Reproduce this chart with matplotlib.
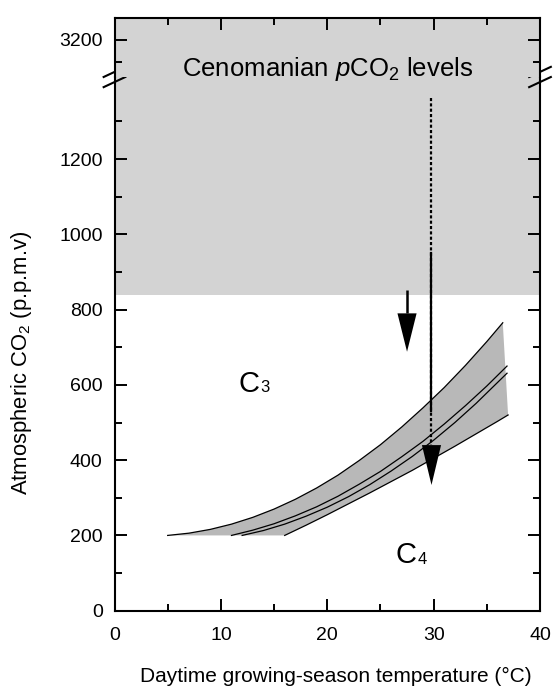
import matplotlib
matplotlib.use("Agg")
import matplotlib.pyplot as plt
from matplotlib.lines import Line2D
from matplotlib.ticker import FixedLocator, NullFormatter

plt.rcParams["font.family"] = ["Liberation Sans", "DejaVu Sans"]
plt.rcParams["mathtext.fontset"] = "custom"
plt.rcParams["mathtext.rm"] = "Liberation Sans"
plt.rcParams["mathtext.it"] = "Liberation Sans:italic"

# C3/C4 crossover band: temperature (°C) vs CO2 (p.p.m.v)
upper_t = [5, 7, 9, 11, 13, 15, 17, 19, 21, 23, 25, 27, 29, 31, 33, 35, 36.5]
upper_co2 = [200, 206, 216, 230, 248, 270, 296, 326, 360, 399, 441, 488,
             539, 593, 652, 715, 765]
lower_t = [16, 18, 20, 22, 24, 26, 28, 30, 32, 34, 36, 37]
lower_co2 = [200, 227, 255, 284, 313, 343, 373, 405, 437, 470, 503, 520]
mid1_t = [11, 13, 15, 17, 19, 21, 23, 25, 27, 29, 31, 33, 35, 36.9]
mid1_co2 = [200, 214, 231, 252, 276, 304, 336, 370, 409, 450, 496, 545,
            597, 650]
mid2_t = [12, 14, 16, 18, 20, 22, 24, 26, 28, 30, 32, 34, 36.9]
mid2_co2 = [200, 213, 230, 251, 275, 303, 335, 371, 410, 453, 500, 551, 631]

# Cenomanian pCO2 range (lower bound; extends past the axis break)
cenomanian_min = 840

# Arrows
arrow_t = 29.8
arrow_dotted = [1361, 440]
arrow_solid = [950, 530]
arrow_head = [440, 334]
small_arrow_t = 27.5
small_arrow_shaft = [852, 790]
small_arrow_head = [790, 688]

x_major = [0, 10, 20, 30, 40]
x_minor = [5, 15, 25, 35]
y_major = [0, 200, 400, 600, 800, 1000, 1200]
y_minor = [100, 300, 500, 700, 900, 1100, 1300]
y_top_major = [3200]
y_top_minor = [3100, 3300]

W_PX, H_PX = 556, 686
fig = plt.figure(figsize=(W_PX / 100, H_PX / 100), dpi=100)

left, right = 114.5, 540.0
top, brk, bottom = 18.0, 77.0, 610.7
L = left / W_PX
Wd = (right - left) / W_PX
ax = fig.add_axes([L, 1 - bottom / H_PX, Wd, (bottom - brk) / H_PX])
axt = fig.add_axes([L, 1 - brk / H_PX, Wd, (brk - top) / H_PX])

gray = "#d3d3d3"
band = "#b8b8b8"

for a in (ax, axt):
    a.set_xlim(0, 40)
ax.set_ylim(0, 1418)
axt.set_ylim(3029, 3301)
axt.set_facecolor(gray)

ax.axhspan(cenomanian_min, 1418, color=gray, lw=0, zorder=0)

ax.fill(upper_t + lower_t[::-1], upper_co2 + lower_co2[::-1],
        color=band, lw=0, zorder=1)
for t, c in [(upper_t, upper_co2), (lower_t, lower_co2),
             (mid1_t, mid1_co2), (mid2_t, mid2_co2)]:
    ax.plot(t, c, color="black", lw=0.9, zorder=2)

# Vertical arrows
ax.plot([arrow_t, arrow_t], arrow_dotted, color="black", lw=1.6,
        ls=(0, (1.4, 1.0)), zorder=3)
ax.plot([arrow_t, arrow_t], arrow_solid, color="black", lw=1.6, zorder=3)
ax.arrow(arrow_t, arrow_head[0], 0, arrow_head[1] - arrow_head[0],
         width=0, head_width=1.8, head_length=arrow_head[0] - arrow_head[1],
         length_includes_head=True, color="black", lw=0, zorder=4)
ax.plot([small_arrow_t, small_arrow_t], small_arrow_shaft, color="black",
        lw=1.8, zorder=3, solid_capstyle="butt")
ax.arrow(small_arrow_t, small_arrow_head[0], 0,
         small_arrow_head[1] - small_arrow_head[0], width=0, head_width=1.8,
         head_length=small_arrow_head[0] - small_arrow_head[1],
         length_includes_head=True, color="black", lw=0, zorder=4)

# Spines and ticks
for a in (ax, axt):
    for s in a.spines.values():
        s.set_linewidth(1.5)
    a.xaxis.set_major_locator(FixedLocator(x_major))
    a.xaxis.set_minor_locator(FixedLocator(x_minor))
ax.spines["top"].set_visible(False)
axt.spines["bottom"].set_visible(False)

ax.yaxis.set_major_locator(FixedLocator(y_major))
ax.yaxis.set_minor_locator(FixedLocator(y_minor))
axt.yaxis.set_major_locator(FixedLocator(y_top_major))
axt.yaxis.set_minor_locator(FixedLocator(y_top_minor))

ax.xaxis.set_ticks_position("bottom")
axt.xaxis.set_ticks_position("top")
axt.xaxis.set_major_formatter(NullFormatter())
for a in (ax, axt):
    a.yaxis.set_ticks_position("both")
    a.tick_params(which="both", direction="in", width=1.4, labelsize=14)
    a.tick_params(which="major", length=8.5)
    a.tick_params(which="minor", length=5)
    a.tick_params(axis="y", pad=8.5)
ax.tick_params(axis="x", pad=12)
axt.tick_params(axis="x", labeltop=False, labelbottom=False)

# Axis break marks on both spines
dx, dy = 0.0255, 0.0095
for xc in (0.0, 1.0):
    for yc in (1 + dy, 1 - dy):
        ax.add_line(Line2D([xc - dx, xc + dx], [yc - dy, yc + dy],
                           transform=ax.transAxes, color="black", lw=1.5,
                           clip_on=False, zorder=10))

# Labels
axt.text(0.5, 0.017, r"Cenomanian $\mathit{p}$CO$_2$ levels", fontsize=18.5,
         ha="center", va="baseline", transform=axt.transAxes)
ax.text(13.6, 582, "C", fontsize=21, ha="right", va="baseline")
ax.text(13.7, 580, "3", fontsize=12, ha="left", va="baseline")
ax.text(28.35, 126, "C", fontsize=21, ha="right", va="baseline")
ax.text(28.45, 124, "4", fontsize=12, ha="left", va="baseline")

fig.text(336 / W_PX, 1 - 676 / H_PX,
         "Daytime growing-season temperature (°C)", fontsize=15,
         ha="center", va="center")
fig.text(21.7 / W_PX, 1 - 363 / H_PX, r"Atmospheric CO$_2$ (p.p.m.v)",
         fontsize=15.8, rotation=90, ha="center", va="center")

fig.savefig("out.png", dpi=100)
